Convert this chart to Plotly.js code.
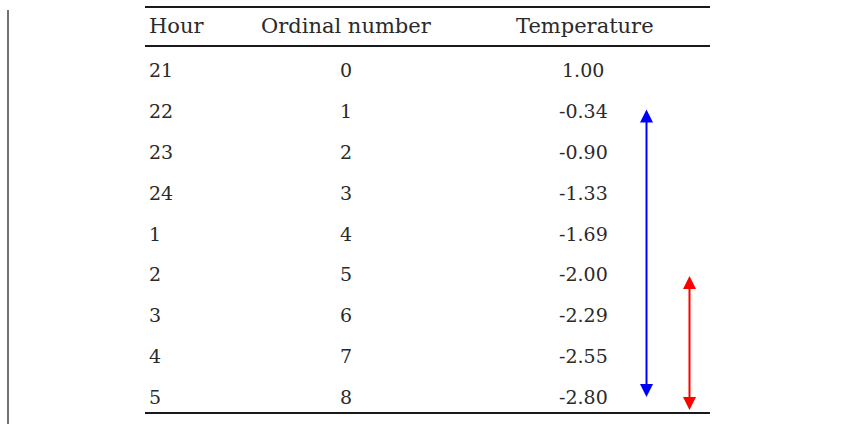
<!DOCTYPE html>
<html><head><meta charset="utf-8">
<script src="https://cdn.plot.ly/plotly-3.0.1.min.js"></script>
<style>html,body{margin:0;padding:0;background:#fff;}#chart{width:841px;height:424px;}</style>
</head><body><div id="chart"></div>
<script>
// ---- data ----
const headers = ["Hour", "Ordinal number", "Temperature"];
const hours = ["21", "22", "23", "24", "1", "2", "3", "4", "5"];
const ordinals = ["0", "1", "2", "3", "4", "5", "6", "7", "8"];
const temperatures = [1.00, -0.34, -0.90, -1.33, -1.69, -2.00, -2.29, -2.55, -2.80];
// arrow spans given as row indices (start row, end row)
const blueSpan = [0.93, 8.0];
const redSpan = [5.0, 8.32];

// ---- layout helpers (pixel -> row units) ----
const ROW0 = 70, ROWH = 40.875;
const ry = px => (px - ROW0) / ROWH;
const font = "DejaVu Serif, Liberation Serif, serif";
const txt = "#2a2a2a";

const colHourX = 147, colOrdX = 346, colTempX = 583, colTempHeadX = 585;
const annotations = [];
annotations.push({x: colHourX, y: ry(26), text: headers[0], xanchor: "left", yanchor: "middle", showarrow: false, font: {family: font, size: 21, color: txt}});
annotations.push({x: colOrdX, y: ry(26), text: headers[1], xanchor: "center", yanchor: "middle", showarrow: false, font: {family: font, size: 21, color: txt}});
annotations.push({x: colTempHeadX, y: ry(26), text: headers[2], xanchor: "center", yanchor: "middle", showarrow: false, font: {family: font, size: 21, color: txt}});
for (let i = 0; i < hours.length; i++) {
  annotations.push({x: colHourX, y: i, text: hours[i], xanchor: "left", yanchor: "middle", showarrow: false, font: {family: font, size: 19, color: txt}});
  annotations.push({x: colOrdX, y: i, text: ordinals[i], xanchor: "center", yanchor: "middle", showarrow: false, font: {family: font, size: 19, color: txt}});
  annotations.push({x: colTempX, y: i, text: temperatures[i].toFixed(2), xanchor: "center", yanchor: "middle", showarrow: false, font: {family: font, size: 19, color: txt}});
}
function arrow(xp, span, color) {
  return {x: xp, y: span[1], ax: xp, ay: span[0], xref: "x", yref: "y", axref: "x", ayref: "y",
    text: "", showarrow: true, arrowside: "end+start", arrowhead: 2, startarrowhead: 2,
    arrowsize: 1.3, startarrowsize: 1.3, arrowwidth: 2, arrowcolor: color, standoff: 0, startstandoff: 0};
}
annotations.push(arrow(646.5, blueSpan, "#0000ff"));
annotations.push(arrow(689.5, redSpan, "#ff0000"));

const lineStyle = {color: "#1a1a1a", width: 2};
const shapes = [
  {type: "line", xref: "x", yref: "y", x0: 145, x1: 710, y0: ry(7), y1: ry(7), line: lineStyle},
  {type: "line", xref: "x", yref: "y", x0: 145, x1: 710, y0: ry(46), y1: ry(46), line: lineStyle},
  {type: "line", xref: "x", yref: "y", x0: 145, x1: 710, y0: ry(413), y1: ry(413), line: lineStyle},
  {type: "line", xref: "x", yref: "y", x0: 8, x1: 8, y0: ry(10), y1: ry(424), line: {color: "#444", width: 1.5}}
];

const trace = {x: [0, 841], y: [ry(0), ry(424)], mode: "markers", marker: {opacity: 0}, hoverinfo: "skip", showlegend: false};

const layout = {
  width: 841, height: 424,
  margin: {l: 0, r: 0, t: 0, b: 0},
  paper_bgcolor: "#fff", plot_bgcolor: "#fff",
  xaxis: {range: [0, 841], visible: false, fixedrange: true},
  yaxis: {range: [ry(424), ry(0)], visible: false, fixedrange: true},
  annotations: annotations,
  shapes: shapes,
  showlegend: false
};
Plotly.newPlot("chart", [trace], layout, {displayModeBar: false, staticPlot: true});
</script></body></html>
